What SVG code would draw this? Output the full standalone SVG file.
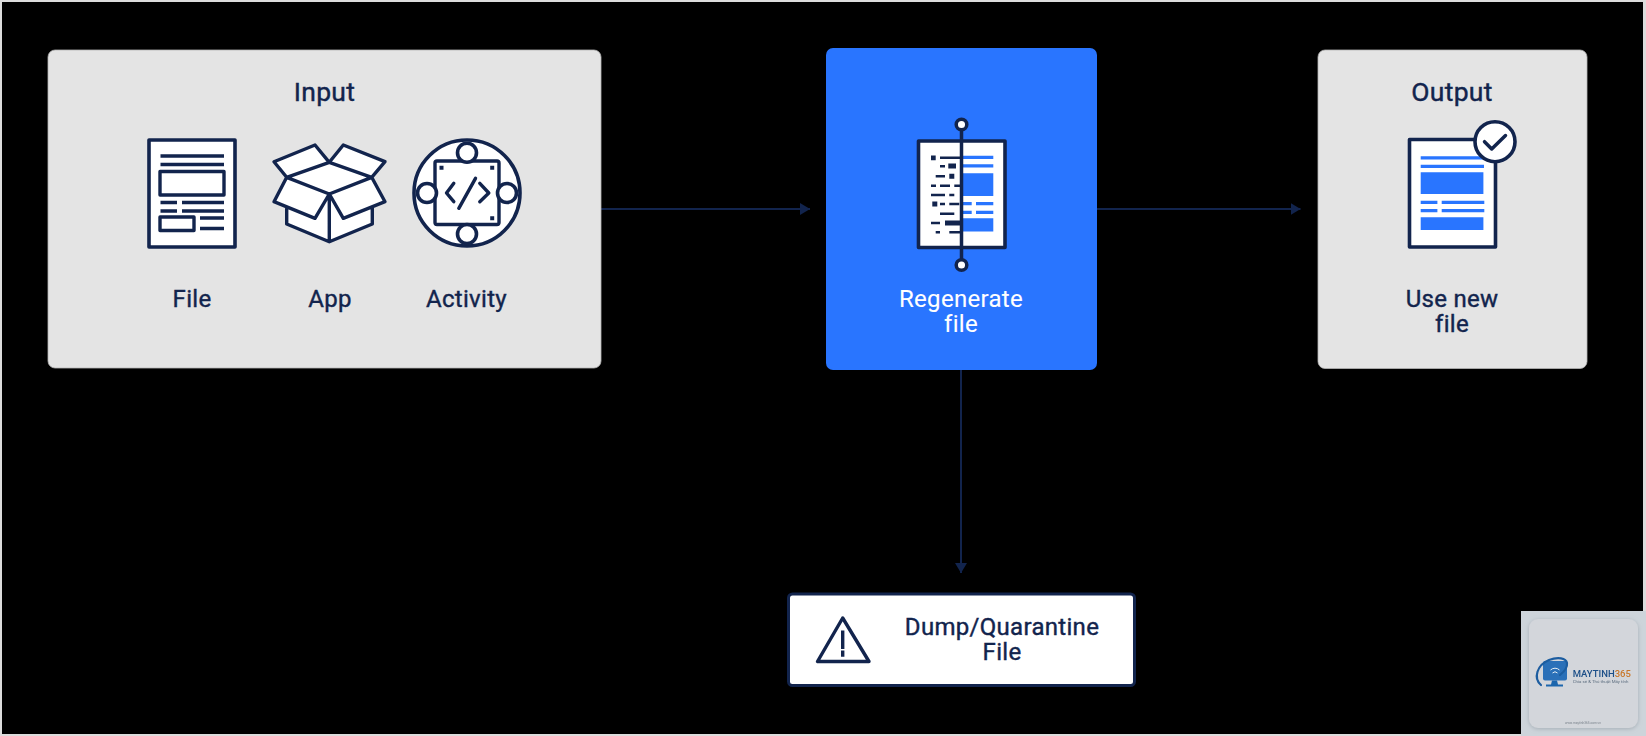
<svg xmlns="http://www.w3.org/2000/svg" width="1646" height="736" viewBox="0 0 1646 736">
<style>
.t{font-family:"Roboto","Liberation Sans",sans-serif;font-size:24px;fill:#12244d;stroke:#12244d;stroke-width:.4px;text-anchor:middle;font-weight:400;letter-spacing:.3px}
.h{font-size:26.500px}
.w{fill:#fff;stroke:#fff;stroke-width:.1px}
.panel{fill:#e4e4e4;stroke:#b4b4b4;stroke-width:.8}
.i{fill:none;stroke:#12244d;stroke-width:3.400;stroke-linejoin:round;stroke-linecap:butt}
.f{fill:#fff;stroke:#12244d;stroke-width:3.600;stroke-linejoin:round}
.n{fill:#12244d}
.b{fill:#2975ff}
.c{fill:none;stroke:#12244d;stroke-width:2;marker-end:url(#ah)}
</style>
<defs>
<marker id="ah" markerUnits="userSpaceOnUse" markerWidth="11" markerHeight="12" refX="10" refY="6" orient="auto"><path d="M0 0L10 6L0 12z" fill="#12244d"/></marker>
<filter id="soft" x="-5%" y="-5%" width="110%" height="110%"><feGaussianBlur stdDeviation="0.35"/></filter>
<filter id="sh" x="-10%" y="-10%" width="120%" height="120%"><feDropShadow dx="0" dy="1" stdDeviation="2" flood-color="#8a949e" flood-opacity=".6"/></filter>
</defs>
<rect x="0" y="0" width="1646" height="736" fill="#dcdcdc"/>
<rect x="2" y="2" width="1641" height="732" fill="#000"/>

<g id="connectors">
<path class="c" d="M601 209H810"/>
<path class="c" d="M1097 209H1300.500"/>
<path class="c" d="M961 370V573"/>
</g>

<g id="input">
<rect class="panel" x="48" y="50" width="553" height="318" rx="7"/>
<text class="t h" x="324.500" y="101">Input</text>
<g id="icon-file">
<rect class="f" x="149" y="140" width="86" height="107"/>
<path class="i" d="M160.500 156H224M160.500 164.500H224M160.500 202.500H177M182 202.500H224M160.500 211H177M182 211H224M200 218H224M200 228.500H224"/>
<rect class="i" x="160" y="171.500" width="64" height="23.500"/>
<rect class="i" x="160" y="217" width="34" height="13.500"/>
</g>
<text class="t" x="192" y="307">File</text>
<g id="icon-app">
<path d="M274 161.700L315 145L329.300 162.300L343.300 145L385 161.700L371.700 177L385 201.700L372.300 207V224L329.300 241.700L286.700 224V207L274 201.700L286.700 177z" fill="#fff"/>
<path class="i" d="M286.700 208V224L329.300 241.700L372.300 224V208M329.300 194V241.700M329.300 162.300L286.700 177.300L329.300 194L371.700 177.300zM286.700 177.300L274 161.700L315 145L329.300 162.300L343.300 145L385 161.700L371.700 177.300M286.700 177.300L274 201.700L315 218.300L329.300 194L343.300 218.300L385 201.700L371.700 177.300"/>
</g>
<text class="t" x="330" y="307">App</text>
<g id="icon-activity">
<circle class="f" cx="467" cy="193" r="53"/>
<rect class="i" x="435" y="161" width="64" height="63.500" rx="2"/>
<circle class="f" cx="467" cy="152.700" r="9.500"/>
<circle class="f" cx="427" cy="193" r="9.500"/>
<circle class="f" cx="507" cy="193" r="9.500"/>
<circle class="f" cx="467" cy="234" r="9.500"/>
<path class="n" d="M439.500 165.700h4v4h-4zM490.200 165.700h4v4h-4zM490.200 216.300h4v4h-4z"/>
<path class="i" style="stroke-linecap:round" d="M453.800 183.300L446.500 193L453.800 201.700M475.500 178.300L458.800 208.300M479.800 183.300L488.800 193L479.800 201.700"/>
</g>
<text class="t" x="466.500" y="307">Activity</text>
</g>

<g id="regenerate">
<rect x="826" y="48" width="271" height="322" rx="7" fill="#2975ff"/>
<rect class="f" x="918.500" y="141" width="86.500" height="106.500"/>
<path class="n" d="M931 155.500h4.700v4.700h-4.700zM940 156.500h21v2.500h-21zM940 165h5v2.500h-5zM948.300 163.500h7.700v5h-7.700zM935.700 175h9.300v2.500h-9.300zM949.300 173.700h5v5h-5zM931 184.500h5v2.500h-5zM940 184.500h10v2.500h-10zM954.300 184.500h6.700v2.500h-6.700zM931 193.700h14v2.500h-14zM949.300 193.700h5v2.500h-5zM932.300 201.500h5v5h-5zM940 202.700h5v2.500h-5zM949.300 202.700h10v2.500h-10zM940 212.500h14.300v2.500h-14.300zM931 221.700h9v2.500h-9zM945 220.500h16v5h-16zM935.700 231h4.300v2.500h-4.300zM949.300 231h11.700v2.500h-11.700z"/>
<path class="b" d="M963 155.700h30.300v3.300h-30.300zM963 164.300h30.300v3.300h-30.300zM963 173.300h30.300v22.700h-30.300zM963 202h8.700v3.300h-8.700zM976 202h17.300v3.300h-17.300zM963 210.700h8.700v3.300h-8.700zM976 210.700h17.300v3.300h-17.300zM963 218.300h30.300v13.300h-30.300z"/>
<path d="M961.500 124V265" fill="none" stroke="#12244d" stroke-width="3.500"/>
<circle cx="961.500" cy="124.500" r="5.300" fill="#fff" stroke="#12244d" stroke-width="3.500"/>
<circle cx="961.500" cy="265" r="5.300" fill="#fff" stroke="#12244d" stroke-width="3.500"/>
<text class="t w" x="961" y="307">Regenerate</text>
<text class="t w" x="961" y="332">file</text>
</g>

<g id="output">
<rect class="panel" x="1318" y="50" width="269" height="318.500" rx="7"/>
<text class="t h" x="1452" y="101">Output</text>
<rect class="f" x="1409.500" y="139.500" width="86" height="107.500"/>
<path class="b" d="M1420.700 156.300h63.300v3.300h-63.300zM1420.700 164.700h63.300v3.300h-63.300zM1420.700 172.300h62.700V194h-62.700zM1420.700 200.700h16.700v3.300h-16.700zM1441.700 200.700h42.600v3.300h-42.600zM1420.700 209h16.700v3.300h-16.700zM1441.700 209h42.600v3.300h-42.600zM1420.700 217.300h62.700V230h-62.700z"/>
<circle class="f" cx="1495" cy="141.700" r="20"/>
<path class="i" style="stroke-linecap:round;stroke-width:3.500" d="M1484.500 141.700L1491.700 149L1505.500 135.500"/>
<text class="t" x="1452" y="307">Use new</text>
<text class="t" x="1452" y="332">file</text>
</g>

<g id="quarantine">
<rect x="788.500" y="594" width="346" height="91.500" rx="4" fill="#fff" stroke="#12244d" stroke-width="3"/>
<path class="i" d="M842.700 618L817.500 661.500H869z"/>
<path class="i" d="M842.700 630.500V649M842.700 650.500V656.700"/>
<text class="t" x="1002" y="635">Dump/Quarantine</text>
<text class="t" x="1002" y="660">File</text>
</g>

<g id="watermark" filter="url(#soft)">
<rect x="1521" y="611" width="125" height="125" fill="#cdd4da"/>
<rect x="1529" y="619" width="109" height="109" rx="9" fill="#d3d6db" filter="url(#sh)"/>
<rect x="1543" y="661" width="24" height="19.500" rx="2" fill="#2a70b8"/>
<path d="M1550.500 670a6.500 6.500 0 0 1 9 0M1552.500 673a3.500 3.500 0 0 1 5 0" fill="none" stroke="#e6eef5" stroke-width="1"/>
<path d="M1552 680.500h5l1 4h5v2h-17v-2h5z" fill="#1f66ad"/>
<path d="M1541 685C1533 678 1537 665 1549 660C1558 656.500 1566 658 1567 663C1567.500 667 1565 671 1560 675" fill="none" stroke="#1d5da0" stroke-width="2.200" stroke-linecap="round"/>
<text x="1572.700" y="676.500" font-family="Roboto,'Liberation Sans',sans-serif" font-size="9.500" font-weight="500" fill="#1d4f88">MAYTINH<tspan fill="#c9772a">365</tspan></text>
<text x="1572.700" y="683" font-family="Roboto,'Liberation Sans',sans-serif" font-size="4.400" fill="#5e6f80">Chia sẻ &amp; Thủ thuật Máy tính</text>
<text x="1583" y="724" font-family="Roboto,'Liberation Sans',sans-serif" font-size="3.200" fill="#7a838c" text-anchor="middle">www.maytinh365.com.vn</text>
</g>
</svg>
